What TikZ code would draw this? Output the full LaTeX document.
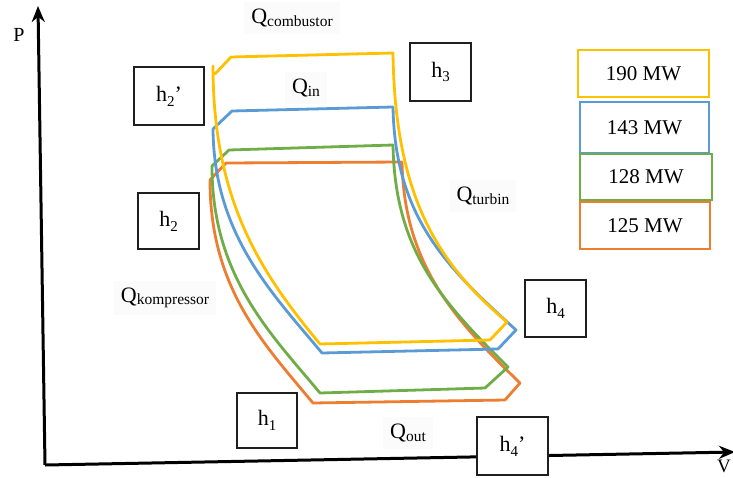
\documentclass[tikz,border=0pt]{standalone}
\usepackage{fontspec}
\setmainfont{Liberation Serif}
\usetikzlibrary{arrows.meta}

\definecolor{cycA}{HTML}{FFC000}
\definecolor{cycB}{HTML}{5B9BD5}
\definecolor{cycC}{HTML}{70AD47}
\definecolor{cycD}{HTML}{ED7D31}

% Q with a lowered, smaller subscript word
\newcommand{\qlab}[1]{Q\raisebox{-0.12em}{\fontsize{15.5}{16}\selectfont #1}}
% state name with a lowered index
\newcommand{\hlab}[2]{h\raisebox{-0.22em}{\fontsize{15}{15}\selectfont #1}#2}

\begin{document}
\begin{tikzpicture}[x=1pt,y=-1pt,
  loopline/.style={line width=2.8pt, line join=round, line cap=round},
  statebox/.style={draw=black!88, line width=2pt, fill=white, inner sep=0pt,
    font=\fontsize{22}{24}\selectfont},
  legbox/.style={line width=2pt, fill=white, inner sep=0pt,
    minimum width=130, font=\fontsize{21}{24}\selectfont},
  qtext/.style={fill=black!1.5, inner sep=7pt, font=\fontsize{22}{24}\selectfont},
  axis/.style={line width=3pt, -{Stealth[length=16pt,width=13pt]}}]
\useasboundingbox (0,0) rectangle (733,477);

% axes
\coordinate (O) at (45,465);
\coordinate (ytop) at (38,6);
\coordinate (xend) at (735,452);
\draw[axis] (O) -- (ytop);
\draw[axis] (O) -- (xend);
\node[font=\fontsize{20}{22}\selectfont] (P) at (19,35) {P};
\node[font=\fontsize{19}{21}\selectfont, inner sep=1pt] (V) at (724,466) {V};

% heat labels
\node[qtext] (qcomb) at (292,18) {\qlab{combustor}};
\node[qtext] (qin) at (306,88) {\qlab{in}};
\node[qtext] (qturb) at (483,196) {\qlab{turbin}};
\node[qtext] (qkomp) at (165,298) {\qlab{kompressor}};
\node[qtext] (qout) at (408,433) {\qlab{out}};

% 125 MW cycle
\draw[loopline, draw=cycD] (210,180) -- (226,163) -- (402,162)
  .. controls (404,265) and (455,320) .. (520,383)
  -- (505,400) -- (313,403)
  .. controls (263,343) and (210,288) .. (210,180);

% 128 MW cycle
\draw[loopline, draw=cycC] (212,166) -- (229,150) -- (393,145)
  .. controls (395,250) and (440,300) .. (508,367)
  -- (485,388) -- (320,393)
  .. controls (270,333) and (212,276) .. (212,166);

% 143 MW cycle
\draw[loopline, draw=cycB] (213,129) -- (232,111) -- (393,107)
  .. controls (395,220) and (450,270) .. (516,330)
  -- (498,349) -- (322,353)
  .. controls (272,293) and (214,235) .. (213,129);

% 190 MW cycle
\draw[loopline, draw=cycA] (215,74) -- (231,57) -- (393,53)
  .. controls (395,200) and (440,265) .. (507,322)
  -- (490,340) -- (320,344)
  .. controls (260,272) and (213,200) .. (213,66);

% state boxes
\node[statebox, minimum width=70, minimum height=58] (h2p) at (169,96) {\hlab{2}{'}};
\node[statebox, minimum width=61, minimum height=56] (h2) at (168.5,221) {\hlab{2}{}};
\node[statebox, minimum width=61, minimum height=58] (h3) at (440.5,72) {\hlab{3}{}};
\node[statebox, minimum width=61, minimum height=57] (h4) at (555.5,308.5) {\hlab{4}{}};
\node[statebox, minimum width=60, minimum height=55] (h1) at (267,420.5) {\hlab{1}{}};
\node[statebox, minimum width=71, minimum height=58] (h4p) at (512.5,446) {\hlab{4}{'}};

% legend
\node[legbox, draw=cycA, minimum width=131, minimum height=47] (l190) at (643.5,73.5) {190 MW};
\node[legbox, draw=cycB, minimum width=129, minimum height=51] (l143) at (644.5,127.5) {143 MW};
\node[legbox, draw=cycC, minimum width=132, minimum height=46] (l128) at (646,177) {128 MW};
\node[legbox, draw=cycD, minimum width=130, minimum height=47] (l125) at (645,225.5) {125 MW};
\end{tikzpicture}
\end{document}
